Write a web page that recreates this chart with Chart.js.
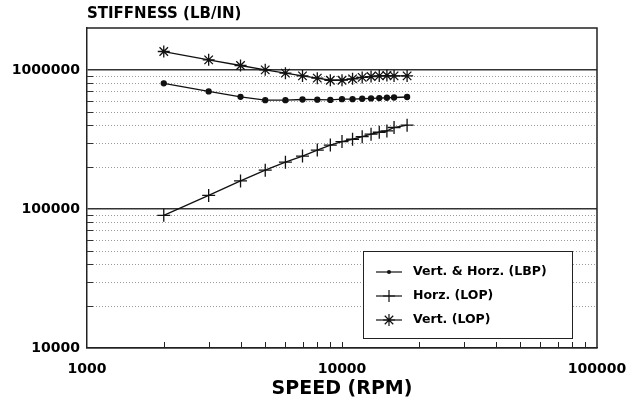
<!DOCTYPE html>
<html><head><meta charset="utf-8">
<script src="https://cdn.jsdelivr.net/npm/chart.js@4.4.1/dist/chart.umd.min.js"></script>
<style>html,body{margin:0;padding:0;background:#fff}#wrap{width:636px;height:405px}</style>
</head><body><div id="wrap"><canvas id="c" width="636" height="405"></canvas></div>
<script>
// ---- data ----
const speeds = [2000,3000,4000,5000,6000,7000,8000,9000,10000,11000,12000,13000,14000,15000,16000,18000];
const lbpVertHorz = [800000,700000,640000,605000,605000,612000,610000,608000,615000,615000,620000,623000,627000,630000,633000,638000];
const lopHorz = [90000,125000,159000,190000,217000,240000,265000,288000,305000,317000,331000,345000,356000,364000,385000,400000];
const lopVert = [1355000,1180000,1075000,1000000,947000,905000,872000,842000,843000,862000,883000,895000,905000,910000,905000,905000];
const seriesNames = ['Vert. & Horz. (LBP)','Horz. (LOP)','Vert. (LOP)'];
const xTickLabels = [1000,10000,100000];
const yTickLabels = [10000,100000,1000000];
const chartTitle = 'STIFFNESS (LB/IN)';
const xAxisTitle = 'SPEED (RPM)';

const FONT = "'DejaVu Sans', sans-serif";
const isMajor = (v, list) => list.some(m => Math.abs(v - m) < 1e-6 * m);
const isMinorStep = v => {
  const s = v / Math.pow(10, Math.floor(Math.log10(v) + 1e-9));
  return Math.abs(s - Math.round(s)) < 1e-6 && Math.round(s) >= 2 && Math.round(s) <= 9;
};
const toPts = arr => arr.map((y, i) => ({x: speeds[i], y}));

function drawMarker(ctx, style, x, y, r) {
  ctx.beginPath();
  if (style === 'circle') {
    ctx.arc(x, y, r, 0, Math.PI * 2);
    ctx.fill();
    return;
  }
  ctx.moveTo(x - r, y); ctx.lineTo(x + r, y);
  ctx.moveTo(x, y - r); ctx.lineTo(x, y + r);
  if (style === 'star') {
    const d = r * Math.SQRT1_2;
    ctx.moveTo(x - d, y - d); ctx.lineTo(x + d, y + d);
    ctx.moveTo(x - d, y + d); ctx.lineTo(x + d, y - d);
  }
  ctx.stroke();
}

const decorPlugin = {
  id: 'decor',
  beforeDatasetsDraw(chart) {
    const ctx = chart.ctx, a = chart.chartArea;
    const ys = chart.scales.y, xs = chart.scales.x;
    ctx.save();
    // minor dotted grid lines + inside ticks on y
    ys.ticks.forEach(t => {
      if (isMajor(t.value, yTickLabels) || !isMinorStep(t.value)) return;
      const py = Math.round(ys.getPixelForValue(t.value)) + 0.5;
      if (py < a.top + 2) return;
      ctx.strokeStyle = '#9a9a9a'; ctx.lineWidth = 1; ctx.setLineDash([1, 2]);
      ctx.beginPath(); ctx.moveTo(a.left, py); ctx.lineTo(a.right, py); ctx.stroke();
      ctx.setLineDash([]);
      ctx.strokeStyle = '#333';
      ctx.beginPath(); ctx.moveTo(a.left, py); ctx.lineTo(a.left + 6, py); ctx.stroke();
    });
    // inside ticks on x
    xs.ticks.forEach(t => {
      if (!isMajor(t.value, xTickLabels) && !isMinorStep(t.value)) return;
      const px = Math.round(xs.getPixelForValue(t.value)) + 0.5;
      if (px <= a.left + 1 || px >= a.right - 1) return;
      ctx.strokeStyle = '#222'; ctx.lineWidth = 1;
      ctx.beginPath(); ctx.moveTo(px, a.bottom); ctx.lineTo(px, a.bottom - 6); ctx.stroke();
    });
    // top and right borders
    ctx.strokeStyle = '#222'; ctx.lineWidth = 1.5;
    ctx.beginPath();
    ctx.moveTo(a.left, a.top); ctx.lineTo(a.right, a.top); ctx.lineTo(a.right, a.bottom);
    ctx.stroke();
    ctx.restore();
  },
  afterDraw(chart) {
    const ctx = chart.ctx, a = chart.chartArea;
    ctx.save();
    ctx.fillStyle = '#000';
    ctx.textBaseline = 'middle';
    // chart title
    ctx.textAlign = 'left';
    ctx.font = 'bold 15px ' + FONT;
    ctx.fillText(chartTitle, a.left, 14);
    // x axis title
    ctx.textAlign = 'center';
    ctx.font = 'bold 19px ' + FONT;
    ctx.fillText(xAxisTitle, (a.left + a.right) / 2, a.bottom + 41);
    // legend box
    const bx = a.left + 276, by = a.top + 223, bw = 209, bh = 87;
    ctx.fillStyle = '#fff';
    ctx.fillRect(bx, by, bw, bh);
    ctx.strokeStyle = '#222'; ctx.lineWidth = 1;
    ctx.strokeRect(bx + 0.5, by + 0.5, bw, bh);
    chart.data.datasets.forEach((ds, i) => {
      const ry = by + 21 + i * 24;
      ctx.strokeStyle = '#111'; ctx.fillStyle = '#111'; ctx.lineWidth = 1.2;
      ctx.beginPath(); ctx.moveTo(bx + 13, ry); ctx.lineTo(bx + 39, ry); ctx.stroke();
      drawMarker(ctx, ds.pointStyle, bx + 26, ry, ds.pointStyle === 'circle' ? 2 : 6);
      ctx.fillStyle = '#000';
      ctx.textAlign = 'left';
      ctx.font = 'bold 12.5px ' + FONT;
      ctx.fillText(ds.label, bx + 50, ry);
    });
    ctx.restore();
  }
};

const common = {showLine: true, borderColor: '#111', borderWidth: 1.3, pointBorderColor: '#111',
  pointBackgroundColor: '#111', pointBorderWidth: 1.3, tension: 0};

new Chart(document.getElementById('c'), {
  type: 'scatter',
  data: {
    datasets: [
      Object.assign({label: seriesNames[0], data: toPts(lbpVertHorz), pointStyle: 'circle', pointRadius: 2.5}, common),
      Object.assign({label: seriesNames[1], data: toPts(lopHorz), pointStyle: 'cross', pointRadius: 6.5}, common),
      Object.assign({label: seriesNames[2], data: toPts(lopVert), pointStyle: 'star', pointRadius: 6}, common)
    ]
  },
  options: {
    responsive: false,
    animation: false,
    devicePixelRatio: 1,
    layout: {padding: {left: 0, top: 28, right: 39, bottom: 0}},
    plugins: {legend: {display: false}, tooltip: {enabled: false}, title: {display: false}},
    scales: {
      x: {
        type: 'logarithmic', min: 1000, max: 100000,
        grid: {display: false},
        border: {display: true, color: '#222', width: 1.5},
        ticks: {autoSkip: false, maxRotation: 0, padding: 5, color: '#000',
          font: {family: FONT, weight: 'bold', size: 14},
          callback: v => isMajor(v, xTickLabels) ? String(Math.round(v)) : ''},
        afterFit: s => { s.height = 57; }
      },
      y: {
        type: 'logarithmic', min: 10000, max: 2000000,
        grid: {drawTicks: false,
          color: c => (c.tick && isMajor(c.tick.value, yTickLabels)) ? '#333' : 'rgba(0,0,0,0)',
          lineWidth: 1.5},
        border: {display: true, color: '#222', width: 1.5},
        ticks: {autoSkip: false, padding: 7, color: '#000',
          font: {family: FONT, weight: 'bold', size: 14},
          callback: v => isMajor(v, yTickLabels) ? String(Math.round(v)) : ''},
        afterFit: s => { s.width = 87; }
      }
    }
  },
  plugins: [decorPlugin]
});
</script></body></html>
